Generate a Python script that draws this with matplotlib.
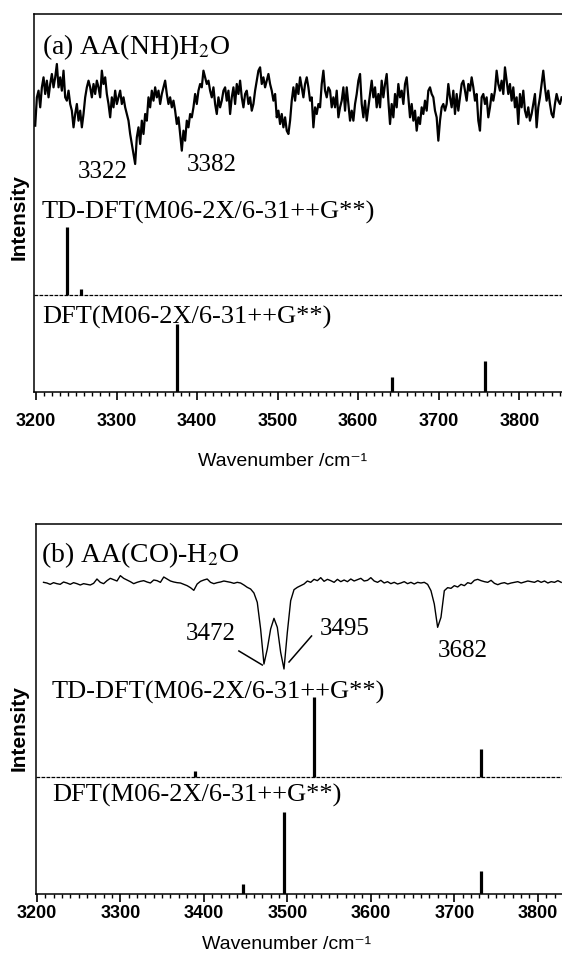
import numpy as np
import matplotlib.pyplot as plt
from matplotlib.ticker import MultipleLocator

plt.rcParams['font.family'] = ['Liberation Sans', 'DejaVu Sans']
SERIF = ['Liberation Serif', 'DejaVu Serif']

# ---- panel (a) AA(NH)H2O : experimental depletion trace (arb. units, larger = deeper)
trace_a = [
    215, 130, 110, 160, 100, 70, 120, 80, 130, 90, 60, 100, 70, 30, 100, 70, 110, 50, 130, 140,
    110, 150, 170, 220, 180, 150, 200, 170, 220, 180, 130, 100, 80, 100, 130, 90, 120, 80, 100, 130,
    50, 90, 70, 120, 150, 190, 130, 160, 110, 150, 130, 110, 150, 130, 160, 180, 200, 240, 270, 300,
    330, 250, 220, 270, 200, 240, 180, 200, 130, 160, 110, 140, 100, 130, 110, 150, 120, 100,
    80, 120, 150, 130, 160, 140, 170, 210, 190, 240, 290, 230, 260, 200, 220, 180, 190, 160, 120, 150,
    110, 90, 100, 50, 70, 90, 80, 110, 130, 100, 150, 180, 130, 160, 140, 110, 100, 140, 110, 180,
    130, 100, 150, 90, 120, 80, 130, 160, 120, 110, 150, 130, 170, 150, 110, 80, 50, 40, 90, 70,
    100, 80, 60, 90, 110, 140, 120, 190, 170, 210, 180, 220, 190, 230, 240, 200, 140, 100,
    140, 90, 120, 70, 100, 130, 90, 70, 100, 140, 130, 220, 160, 180, 150, 160, 90, 50, 110, 130,
    100, 110, 160, 130, 160, 110, 190, 160, 140, 100, 170, 100, 150, 200, 170, 200, 150, 120, 80, 60,
    150, 190, 140, 200, 160, 120, 80, 130, 100, 160, 120, 160, 80, 130, 90, 60, 140, 210, 150, 190,
    120, 160, 90, 130, 110, 150, 90, 70, 130, 190, 150, 200, 170, 230, 190, 210, 160, 180, 140,
    170, 110, 100, 120, 130, 170, 190, 260, 200, 160, 150, 170, 150, 90, 130, 160, 110, 180, 120, 170,
    130, 90, 80, 110, 140, 90, 110, 70, 100, 140, 120, 200, 230, 130, 120, 150, 130, 190, 160, 120,
    140, 110, 50, 90, 110, 80, 120, 40, 80, 120, 90, 140, 100, 160, 130, 210, 120, 160, 110, 170,
    190, 160, 200, 180, 150, 120, 220, 160, 130, 90, 50, 100, 140, 110, 150, 180, 190, 150, 120, 140,
    150, 130,
]
wn_a = np.linspace(3199, 3852.5, len(trace_a))
td_a_pos = [3239, 3256]
td_a_int = [68, 6]
dft_a_pos = [3375, 3642, 3758]
dft_a_int = [68, 15, 31]

# ---- panel (b) AA(CO)-H2O
trace_b = [
    40, 42, 46, 41, 44, 46, 39, 42, 46, 41, 44, 48, 44, 46, 48, 43, 30, 40, 44, 35,
    28, 32, 36, 20, 28, 33, 38, 44, 40, 37, 35, 39, 42, 33, 35, 40, 24, 30, 36, 39,
    41, 42, 46, 50, 56, 64, 45, 37, 33, 30, 40, 44, 41, 39, 36, 38, 40, 43, 40, 42,
    48, 55, 60, 72, 100, 180, 285, 240, 180, 148, 175, 250, 300, 190, 95, 62, 55,
    50, 45, 36, 40, 31, 35, 26, 37, 31, 35, 40, 31, 38, 33, 38, 30, 36, 32, 28, 36,
    34, 26, 36, 40, 34, 42, 38, 44, 40, 45, 42, 38, 44, 40, 45, 40, 42, 40, 46, 65,
    105, 175, 145, 65, 56, 58, 50, 54, 46, 50, 41, 44, 34, 31, 35, 38, 40, 34, 43, 47,
    43, 41, 45, 42, 40, 38, 42, 39, 36, 38, 40, 35, 40, 36, 42, 38, 40, 35, 40,
]
wn_b = np.linspace(3208, 3828, len(trace_b))
td_b_pos = [3390, 3532, 3732]
td_b_int = [6, 80, 28]
dft_b_pos = [3447, 3496, 3732]
dft_b_int = [10, 82, 23]

fig = plt.figure(figsize=(5.62, 9.70), dpi=100)
FW, FH = 562.0, 970.0


def make_axes(left, top, bottom, x0, x1, scale):
    w = (x1 - x0) * scale
    ax = fig.add_axes([left / FW, (FH - bottom) / FH, w / FW, (bottom - top) / FH])
    ax.set_xlim(x0, x1)
    ax.set_ylim(0, bottom - top)
    ax.spines['right'].set_visible(False)
    for s in ('left', 'top', 'bottom'):
        ax.spines[s].set_linewidth(1.1)
    ax.set_yticks([])
    ax.xaxis.set_major_locator(MultipleLocator(100))
    ax.xaxis.set_minor_locator(MultipleLocator(10))
    ax.tick_params(axis='x', which='major', direction='out', length=5.5, width=1.2, labelsize=13)
    ax.tick_params(axis='x', which='minor', direction='out', length=3, width=1.0)
    for lab in ax.get_xticklabels():
        lab.set_fontweight('bold')
    return ax


def sticks(ax, pos, heights, base):
    ax.vlines(pos, base, base + np.array(heights), color='k', lw=2.3)


# ---------------- panel (a)
ax1 = make_axes(34, 15, 393, 3197.5, 3880, 0.8055)
ax1.tick_params(axis='x', which='major', pad=9)
ax1.plot(wn_a, 338 - np.array(trace_a) / 3, color='k', lw=1.6)
ax1.axhline(97, color='k', lw=0.9, ls=(0, (3, 1)))
sticks(ax1, td_a_pos, td_a_int, 97)
sticks(ax1, dft_a_pos, dft_a_int, 0)
ax1.text(3207.5, 346, r'(a) AA(NH)H$_2$O', family=SERIF, math_fontfamily='stix',
         fontsize=20, va='center', ha='left')
ax1.text(3283, 221, '3322', family=SERIF, fontsize=18, va='center', ha='center')
ax1.text(3418, 228, '3382', family=SERIF, fontsize=18, va='center', ha='center')
ax1.text(3207.5, 181, 'TD-DFT(M06-2X/6-31++G**)', family=SERIF, fontsize=19, va='center')
ax1.text(3207.5, 76, 'DFT(M06-2X/6-31++G**)', family=SERIF, fontsize=19, va='center')

# ---------------- panel (b)
ax2 = make_axes(36, 525, 895, 3199, 3860, 0.835)
ax2.tick_params(axis='x', which='major', pad=1.5)
ax2.plot(wn_b, 325 - np.array(trace_b) / 3, color='k', lw=1.0)
ax2.axhline(117, color='k', lw=0.9, ls=(0, (3, 1)))
sticks(ax2, td_b_pos, td_b_int, 117)
sticks(ax2, dft_b_pos, dft_b_int, 0)
ax2.text(3205, 340, r'(b) AA(CO)-H$_2$O', family=SERIF, math_fontfamily='stix',
         fontsize=20, va='center', ha='left')
ax2.text(3438, 261, '3472', family=SERIF, fontsize=18, va='center', ha='right')
ax2.plot([3442, 3470], [243, 229], color='k', lw=1.1)
ax2.text(3539, 266, '3495', family=SERIF, fontsize=18, va='center', ha='left')
ax2.plot([3502, 3529], [232, 258], color='k', lw=1.1)
ax2.text(3680, 244, '3682', family=SERIF, fontsize=18, va='center', ha='left')
ax2.text(3218, 203, 'TD-DFT(M06-2X/6-31++G**)', family=SERIF, fontsize=19, va='center')
ax2.text(3218, 100, 'DFT(M06-2X/6-31++G**)', family=SERIF, fontsize=19, va='center')

# axis titles
for yc in (217, 728):
    fig.text(19.5 / FW, (FH - yc) / FH, 'Intensity', rotation=90, fontsize=15,
             fontweight='bold', ha='center', va='center')
fig.text(283 / FW, (FH - 462) / FH, 'Wavenumber /cm⁻¹', fontsize=14, ha='center', va='center')
fig.text(287 / FW, (FH - 945) / FH, 'Wavenumber /cm⁻¹', fontsize=14, ha='center', va='center')

fig.savefig('out.png', dpi=100)
